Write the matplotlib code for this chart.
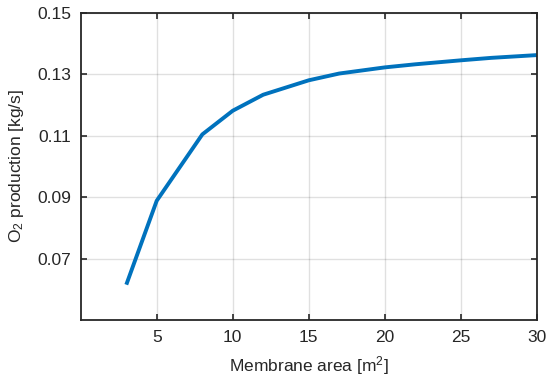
import matplotlib.pyplot as plt

# membrane area [m2] vs O2 production [kg/s]
area = [3, 5, 8, 10, 12, 15, 17, 20, 22, 25, 27, 30]
o2_rate = [0.0615, 0.0888, 0.1104, 0.1181, 0.1233, 0.1280, 0.1302, 0.1322,
           0.1332, 0.1345, 0.1353, 0.1362]

x_ticks = [5, 10, 15, 20, 25, 30]
y_ticks = [0.07, 0.09, 0.11, 0.13, 0.15]

plt.rcParams['font.family'] = ['Liberation Sans', 'DejaVu Sans']
plt.rcParams['mathtext.default'] = 'regular'

fig = plt.figure(figsize=(5.47, 3.82), dpi=100)
ax = fig.add_axes([0.1475, 0.1623, 0.834, 0.8045])

ax.plot(area, o2_rate, color='#0072BD', linewidth=2.8, solid_capstyle='butt')

ax.set_xlim(0, 30)
ax.set_ylim(0.05, 0.15)
ax.set_xticks(x_ticks)
ax.set_yticks(y_ticks)
ax.set_yticklabels(['%.2f' % v for v in y_ticks])

ax.grid(True, color='#000000', alpha=0.12, linewidth=1.0)
ax.tick_params(direction='in', length=4, width=1.2, colors='#262626',
               labelsize=12.5, top=True, right=True, pad=7)
for s in ax.spines.values():
    s.set_color('#262626')
    s.set_linewidth(1.3)

ax.set_xlabel('Membrane area [m$^2$]', fontsize=12.5, color='#262626', labelpad=7)
ax.set_ylabel('O$_2$ production [kg/s]', fontsize=12.5, color='#262626', labelpad=8)

fig.savefig('out.png', dpi=100)
